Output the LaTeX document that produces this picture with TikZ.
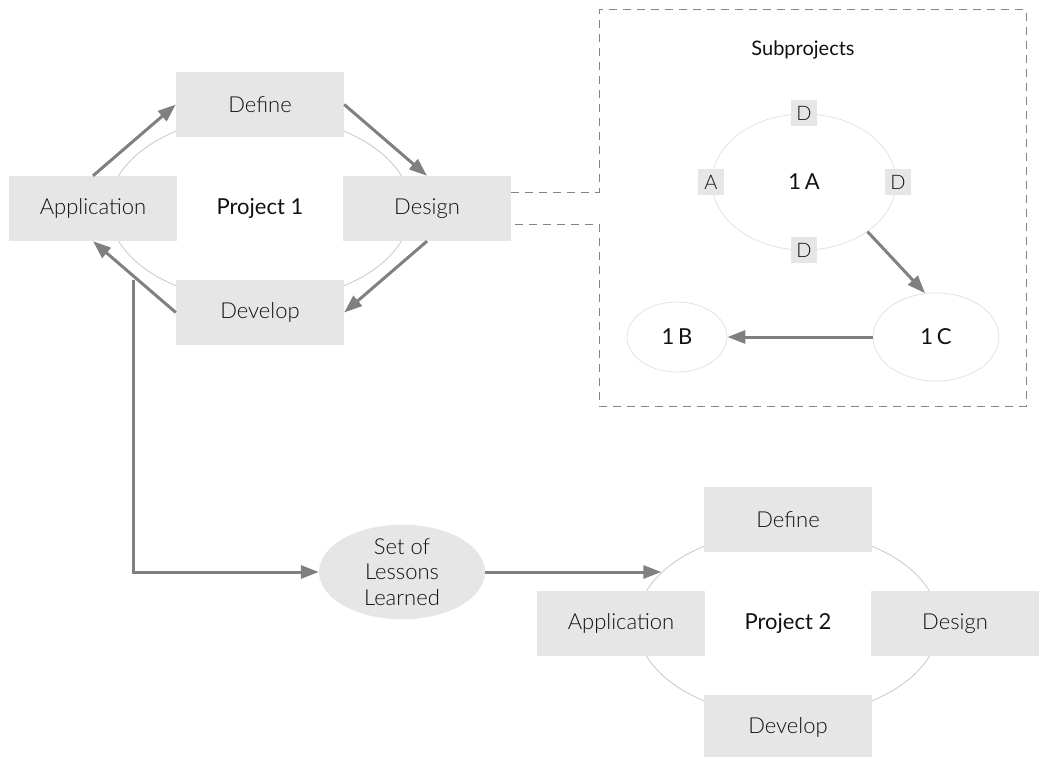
\documentclass[tikz,border=0pt]{standalone}
\usepackage{fontspec}
\setmainfont{Lato}[UprightFont=* Light, BoldFont=*]
\usetikzlibrary{shapes.geometric,arrows.meta}
\definecolor{boxgray}{HTML}{E6E6E6}
\definecolor{arrowgray}{HTML}{808080}
\definecolor{ringgray}{HTML}{C8C8C8}
\definecolor{subring}{HTML}{E2E2E2}
\definecolor{dashgray}{HTML}{858585}
\definecolor{txt}{HTML}{111111}
\begin{document}
\begin{tikzpicture}[x=1pt,y=-1pt,
  every node/.style={text=txt, font=\fontsize{22}{25.5}\selectfont},
  phase/.style={fill=boxgray, minimum width=168pt, minimum height=65pt, inner sep=0pt},
  ring/.style={ellipse, draw=ringgray, line width=0.8pt, minimum width=302pt, minimum height=186pt, inner sep=0pt},
  subring/.style={ellipse, draw=subring, line width=0.8pt, inner sep=0pt},
  letterbox/.style={fill=boxgray, minimum size=26pt, inner sep=0pt, font=\fontsize{20}{22}\selectfont},
  flow/.style={draw=arrowgray, line width=3pt, -{Triangle[length=18pt,width=13pt]}},
  subline/.style={draw=dashgray, line width=1pt, dash pattern=on 8pt off 6pt}
]
\useasboundingbox (0,0) rectangle (1041,757);

% Project 1
\node[ring] (p1) at (260,208.5) {\bfseries Project 1};
\node[phase] (p1def) at (260,104.5) {Define};
\node[phase] (p1app) at (93,208.5) {Application};
\node[phase] (p1des) at (427,208.5) {Design};
\node[phase] (p1dev) at (260,312.5) {Develop};
\draw[flow] (p1app.north) -- (p1def.west);
\draw[flow] (p1def.east) -- (p1des.north);
\draw[flow] (p1des.south) -- (p1dev.east);
\draw[flow] (p1dev.west) -- (p1app.south);

% Subprojects frame
\coordinate (sbtl) at (599,10);
\coordinate (sbtr) at (1026,10);
\coordinate (sbbr) at (1026,406);
\coordinate (sbbl) at (599,406);
\draw[subline] ([yshift=16pt]p1des.east) -| (sbtl) -- (sbtr) -- (sbbr) -- (sbbl) |- ([yshift=-16pt]p1des.east);
\node (subtitle) at (803,50) {\bfseries\fontsize{20}{22}\selectfont Subprojects};

\node[subring, minimum width=184pt, minimum height=136pt] (s1a) at (804,182) {\bfseries 1\,A};
\node[letterbox] (s1aD1) at (804,113) {D};
\node[letterbox] (s1aA) at (711,182) {A};
\node[letterbox] (s1aD2) at (898,182) {D};
\node[letterbox] (s1aD3) at (804,250) {D};
\node[subring, minimum width=100pt, minimum height=70pt] (s1b) at (677,337) {\bfseries 1\,B};
\node[subring, minimum width=126pt, minimum height=88pt] (s1c) at (936,337) {\bfseries 1\,C};
\draw[flow] (s1a.-38.6) -- (s1c.104);
\draw[flow] (s1c.west) -- (s1b.east);

% Lessons
\node[ellipse, fill=boxgray, minimum width=166pt, minimum height=94pt, inner sep=0pt, align=center] (lessons) at (402,572) {Set of\\Lessons\\Learned};
\coordinate (p1tap) at (133,280);
\draw[flow] (p1tap) |- (lessons.west);

% Project 2
\node[ring] (p2) at (788,623.5) {\bfseries Project 2};
\node[phase] (p2def) at (788,519.5) {Define};
\node[phase] (p2app) at (621,623.5) {Application};
\node[phase] (p2des) at (955,623.5) {Design};
\node[phase] (p2dev) at (788,727.5) {Develop};
\draw[flow] (lessons.east) -- (lessons.east -| p2.158);
\end{tikzpicture}
\end{document}
